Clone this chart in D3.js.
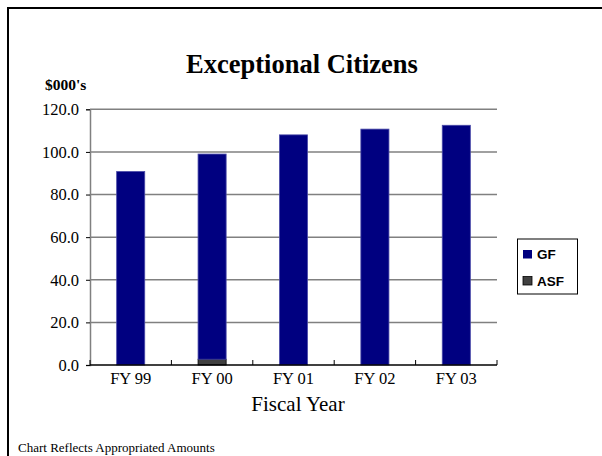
<!DOCTYPE html>
<html><head><meta charset="utf-8">
<script src="https://cdn.jsdelivr.net/npm/d3@7"></script>
<style>body{margin:0;background:#fff}svg{display:block}</style>
</head><body>
<svg id="c" width="602" height="456"></svg>
<script>
const categories = ["FY 99","FY 00","FY 01","FY 02","FY 03"];
const asfValues = [0, 2.7, 0, 0, 0];
const gfValues = [90.8, 96.3, 108.0, 110.7, 112.5];
const yTicks = [0, 20, 40, 60, 80, 100, 120];
const seriesNames = ["GF","ASF"];
const seriesColors = ["#000080","#404040"];

const svg = d3.select("#c");
const serif = "'Liberation Serif','Times New Roman',serif";
const sans = "'Liberation Sans',Arial,sans-serif";

// frame
svg.append("rect").attr("x",8).attr("y",8).attr("width",700).attr("height",600)
  .attr("fill","none").attr("stroke","#000").attr("stroke-width",2);

const x = d3.scaleBand().domain(categories).range([90,497]).paddingInner(0.655).paddingOuter(0.3275);
const y = d3.scaleLinear().domain([0,120]).range([365,109.3]);

// gridlines
svg.append("g").selectAll("line").data(yTicks.filter(d=>d>0)).join("line")
  .attr("x1",90).attr("x2",497).attr("y1",d=>y(d)).attr("y2",d=>y(d))
  .attr("stroke","#808080").attr("stroke-width",1.5);

// y axis
const ya = svg.append("g").attr("transform","translate(90,0)")
  .call(d3.axisLeft(y).tickValues(yTicks).tickFormat(d3.format(".1f")).tickSize(4).tickPadding(7));
ya.select(".domain").attr("stroke","#808080").attr("stroke-width",1.5);
ya.selectAll(".tick line").attr("stroke","#000");
ya.selectAll("text").attr("font-family",serif).attr("font-size",16.5).attr("fill","#000");

// bars
const stack = categories.map((c,i)=>({c, asf:asfValues[i], gf:gfValues[i]}));
const g = svg.append("g");
g.selectAll("rect.asf").data(stack.filter(d=>d.asf>0)).join("rect").attr("class","asf")
  .attr("x",d=>x(d.c)).attr("width",x.bandwidth())
  .attr("y",d=>y(d.asf)).attr("height",d=>y(0)-y(d.asf))
  .attr("fill",seriesColors[1]).attr("stroke","#000").attr("stroke-width",0.8);
g.selectAll("rect.gf").data(stack).join("rect").attr("class","gf")
  .attr("x",d=>x(d.c)).attr("width",x.bandwidth())
  .attr("y",d=>y(d.asf+d.gf)).attr("height",d=>y(d.asf)-y(d.asf+d.gf))
  .attr("fill",seriesColors[0]).attr("stroke","#4a4aa8").attr("stroke-width",0.8);

// x axis
const xb = d3.scalePoint().domain(d3.range(categories.length+1)).range([90,497]);
const xa = svg.append("g");
xa.append("line").attr("x1",90).attr("x2",497).attr("y1",y(0)).attr("y2",y(0))
  .attr("stroke","#000").attr("stroke-width",1.5);
xa.selectAll("line.t").data(xb.domain()).join("line").attr("class","t")
  .attr("x1",d=>xb(d)).attr("x2",d=>xb(d)).attr("y1",y(0)).attr("y2",y(0)-5)
  .attr("stroke","#000").attr("stroke-width",1);
xa.selectAll("text").data(categories).join("text")
  .attr("x",d=>x(d)+x.bandwidth()/2).attr("y",384).attr("text-anchor","middle")
  .attr("font-family",serif).attr("font-size",16.5).text(d=>d);

// titles
svg.append("text").attr("x",302).attr("y",73).attr("text-anchor","middle")
  .attr("font-family",serif).attr("font-size",26.5).attr("font-weight","bold").text("Exceptional Citizens");
svg.append("text").attr("x",45).attr("y",90)
  .attr("font-family",serif).attr("font-size",15.5).attr("font-weight","bold").text("$000's");
svg.append("text").attr("x",298).attr("y",411).attr("text-anchor","middle")
  .attr("font-family",serif).attr("font-size",21).text("Fiscal Year");
svg.append("text").attr("x",18).attr("y",452)
  .attr("font-family",serif).attr("font-size",13).text("Chart Reflects Appropriated Amounts");

// legend
const lg = svg.append("g");
lg.append("rect").attr("x",517.5).attr("y",239).attr("width",60).attr("height",55)
  .attr("fill","#fff").attr("stroke","#000").attr("stroke-width",1);
seriesNames.forEach((n,i)=>{
  lg.append("rect").attr("x",523).attr("y",250+i*26.5).attr("width",9).attr("height",8.5)
    .attr("fill",seriesColors[i]).attr("stroke",i===0?"none":"#000").attr("stroke-width",0.8);
  lg.append("text").attr("x",537).attr("y",259+i*26.5)
    .attr("font-family",sans).attr("font-size",13.5).attr("font-weight","bold").text(n);
});
</script>
</body></html>
